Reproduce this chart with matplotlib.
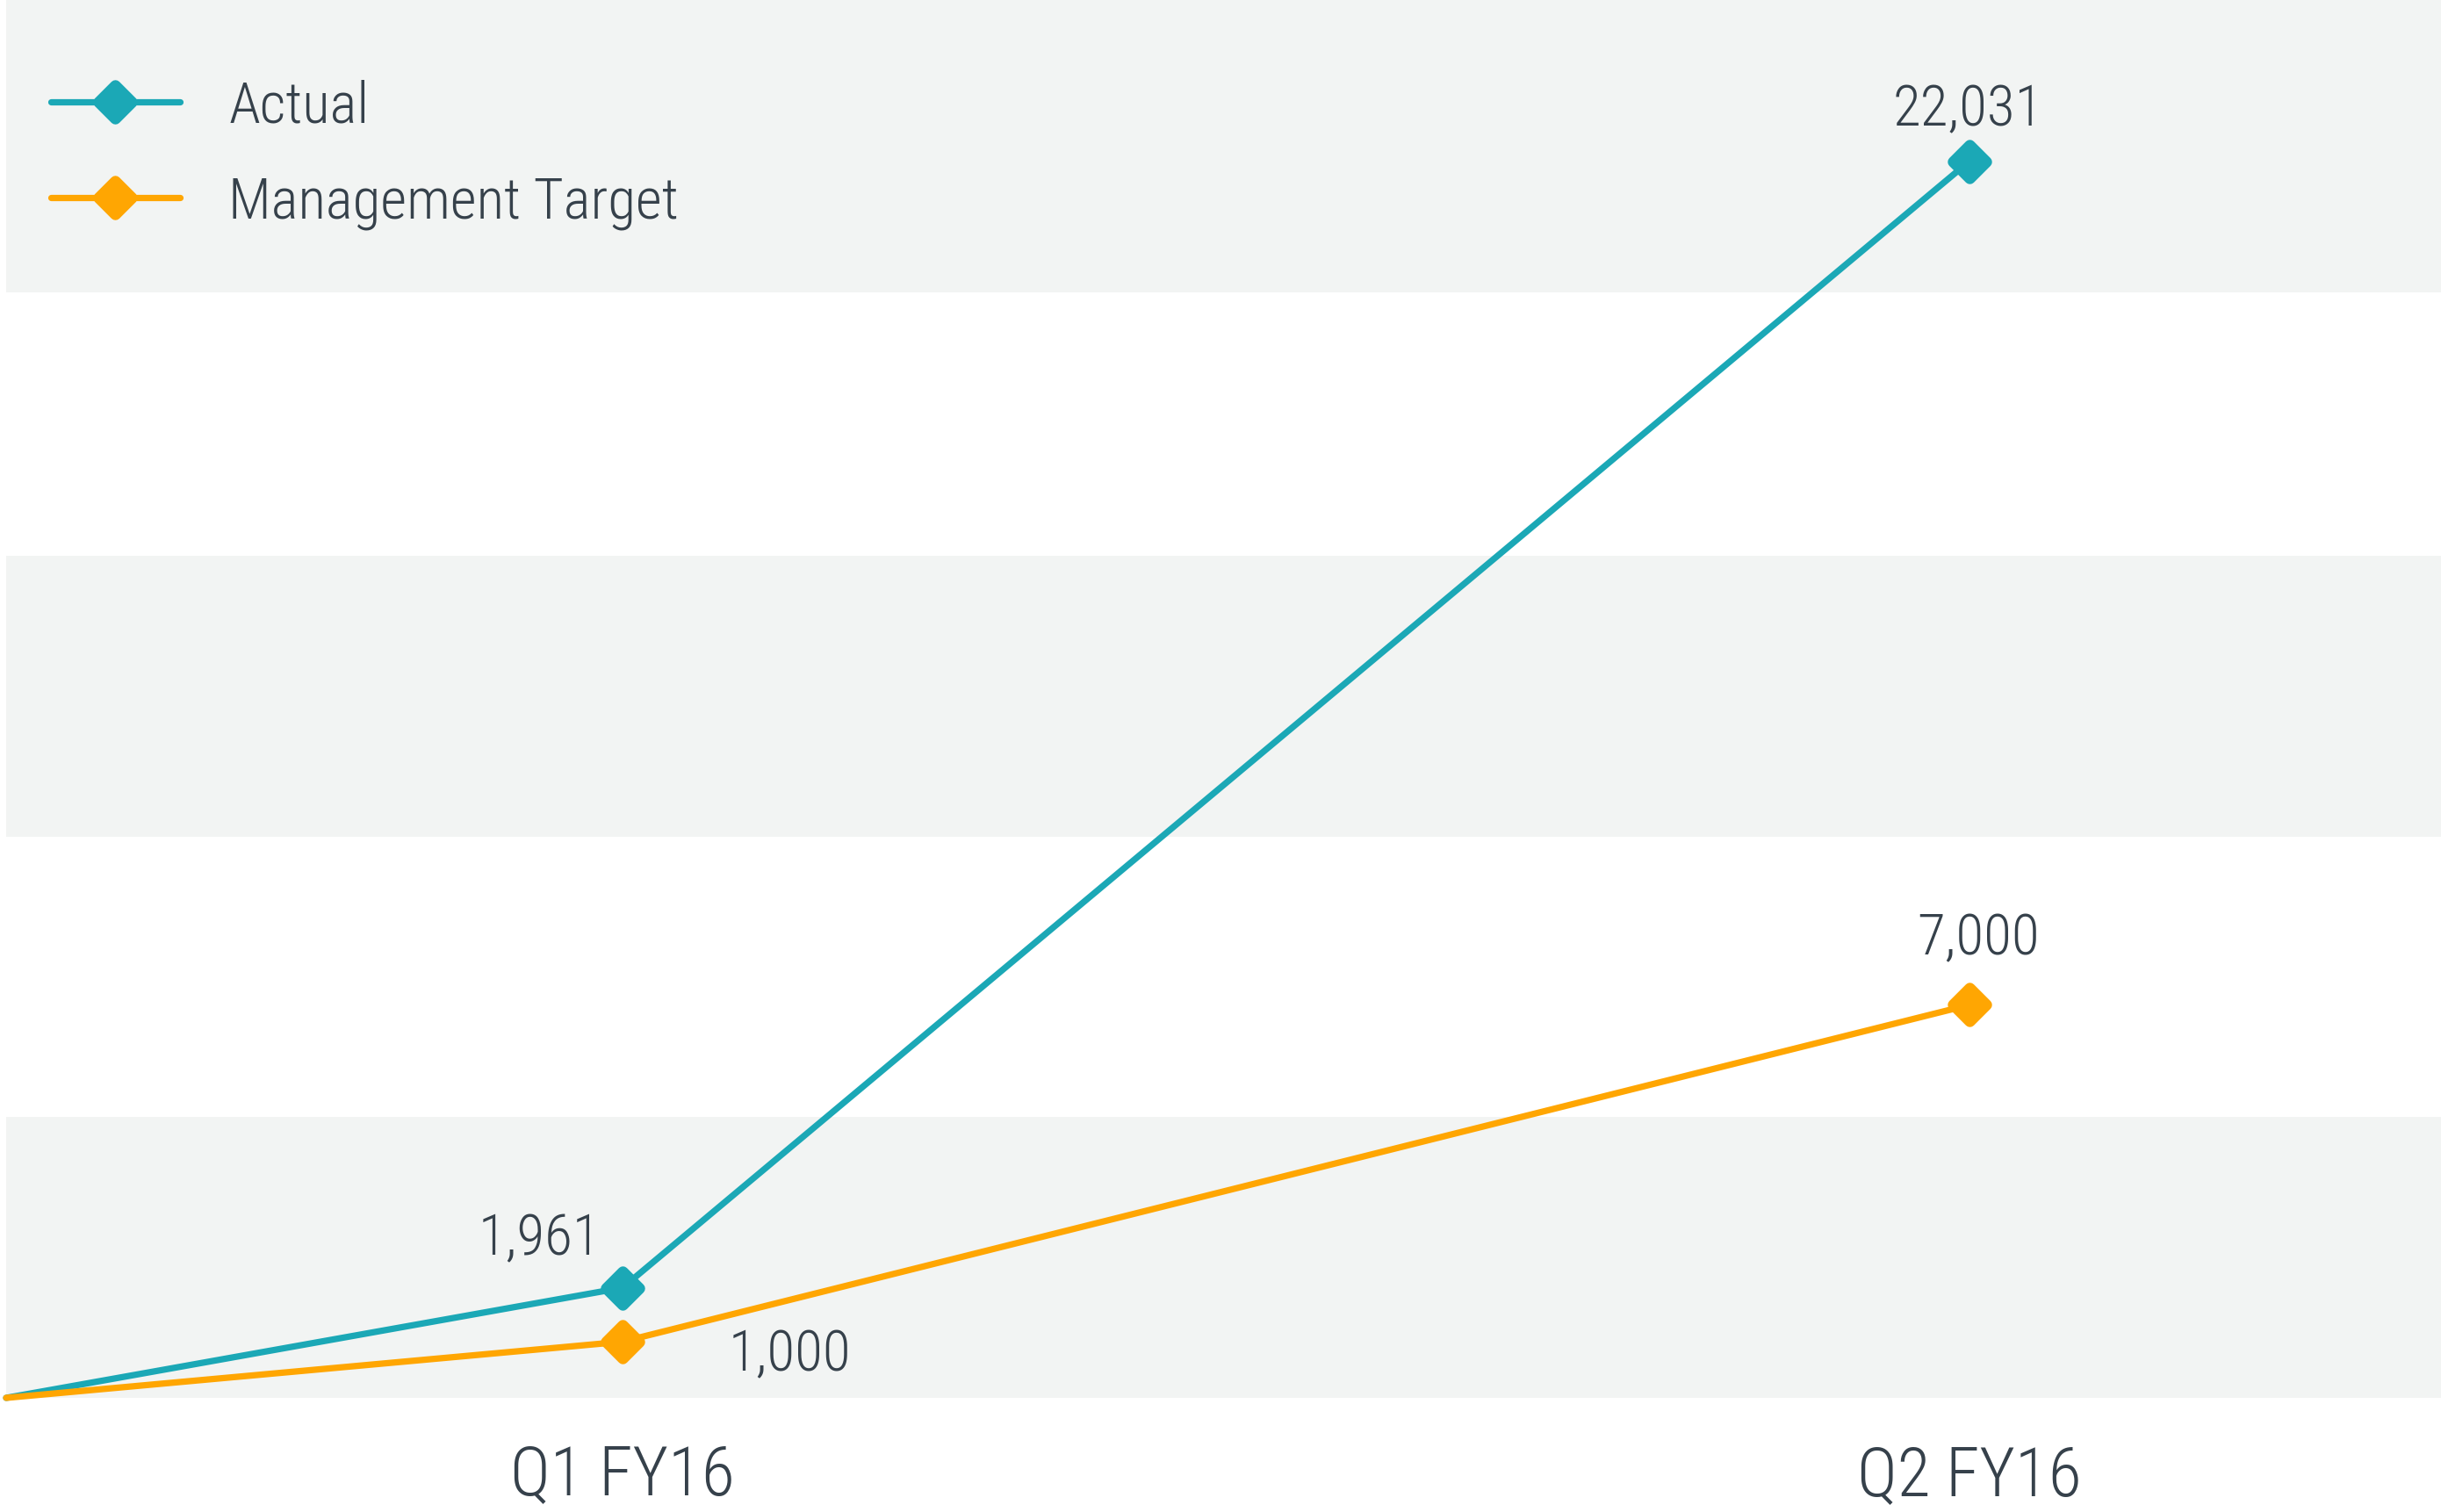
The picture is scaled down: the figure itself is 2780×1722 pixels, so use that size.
import matplotlib
matplotlib.use("Agg")
import matplotlib.pyplot as plt
from matplotlib import font_manager
from matplotlib.markers import MarkerStyle
from matplotlib.lines import Line2D

# ---------------- data ----------------
categories = ["Q1 FY16", "Q2 FY16"]
cat_pos = [0, 1]
start_pos = -0.4576          # series origin at the left edge
start_value = 0
actual = [1961, 22031]
target = [1000, 7000]
series_names = ["Actual", "Management Target"]
band_edges = [0, 5000, 10000, 15000, 19700, 26000]
value_labels_actual = ["1,961", "22,031"]
value_labels_target = ["1,000", "7,000"]

# ---------------- style ----------------
def pick_font(cands):
    for c in cands:
        try:
            font_manager.findfont(font_manager.FontProperties(family=c), fallback_to_default=False)
            return c
        except Exception:
            continue
    return "DejaVu Sans"

FONT = pick_font(["Roboto Condensed", "Liberation Sans Narrow", "Roboto"])
plt.rcParams["font.family"] = [FONT, "DejaVu Sans"]
plt.rcParams["font.weight"] = "light"

TEAL = "#1ba8b6"
ORANGE = "#ffa602"
BAND = "#f2f4f3"
TEXT = "#36414b"

W, H, DPI = 2780, 1722, 200
fig = plt.figure(figsize=(W / DPI, H / DPI), dpi=DPI)
fig.patch.set_facecolor("white")

ax_left_px, ax_bottom_px = 7, 1600
ax = fig.add_axes([ax_left_px / W, (H - ax_bottom_px) / H, 1 - ax_left_px / W, ax_bottom_px / H])
ax.set_facecolor("white")

scale = 0.06393  # px per unit
zero_px = 1592
ax.set_ylim(-(ax_bottom_px - zero_px) / scale, zero_px / scale)
ax.set_xlim(start_pos, start_pos + (W - ax_left_px) / 1534)

for i in range(0, len(band_edges) - 1, 2):
    ax.axhspan(band_edges[i], band_edges[i + 1], color=BAND, lw=0, zorder=0)

mk = MarkerStyle("D", joinstyle="round")
lw = 2.6
MS, MEW = 9.6, 4.5
for vals, col, name, z in [(actual, TEAL, series_names[0], 3), (target, ORANGE, series_names[1], 4)]:
    xs = [start_pos] + cat_pos
    ys = [start_value] + vals
    ax.plot(xs, ys, color=col, lw=lw, solid_capstyle="round", solid_joinstyle="round",
            zorder=z, clip_on=False, label=name)
    ax.plot(cat_pos, vals, ls="none", marker=mk, ms=MS, mew=MEW, mfc=col, mec=col,
            zorder=z + 0.5, clip_on=False)

fs_val = 23.5
def lab(x, y, s, dx, dy, ha):
    ax.annotate(s, (x, y), xytext=(dx * 72 / DPI, dy * 72 / DPI), textcoords="offset points",
                ha=ha, va="baseline", fontsize=fs_val, color=TEXT, zorder=10)

lab(cat_pos[0], actual[0], value_labels_actual[0], -25, 37, "right")
lab(cat_pos[1], actual[1], value_labels_actual[1], -2, 40, "center")
lab(cat_pos[0], target[0], value_labels_target[0], 121, -33, "left")
lab(cat_pos[1], target[1], value_labels_target[1], 10, 57, "center")

ax.set_xticks(cat_pos)
ax.set_xticklabels(categories, fontsize=28, color=TEXT)
ax.tick_params(axis="x", length=0, pad=16)
ax.set_yticks([])
for sp in ax.spines.values():
    sp.set_visible(False)

# legend
handles = [Line2D([0], [0], color=c, lw=lw, marker=mk, ms=MS, mew=MEW, mfc=c, mec=c,
                  solid_capstyle="round") for c in (TEAL, ORANGE)]
leg = fig.legend(handles, series_names, loc="upper left", bbox_to_anchor=(58 / W, 1 - 90 / H),
                 frameon=False, fontsize=fs_val, handlelength=2.25, handletextpad=0.85,
                 labelspacing=0.72, borderpad=0, borderaxespad=0, labelcolor=TEXT)

fig.savefig("out.png", dpi=DPI, facecolor="white")
